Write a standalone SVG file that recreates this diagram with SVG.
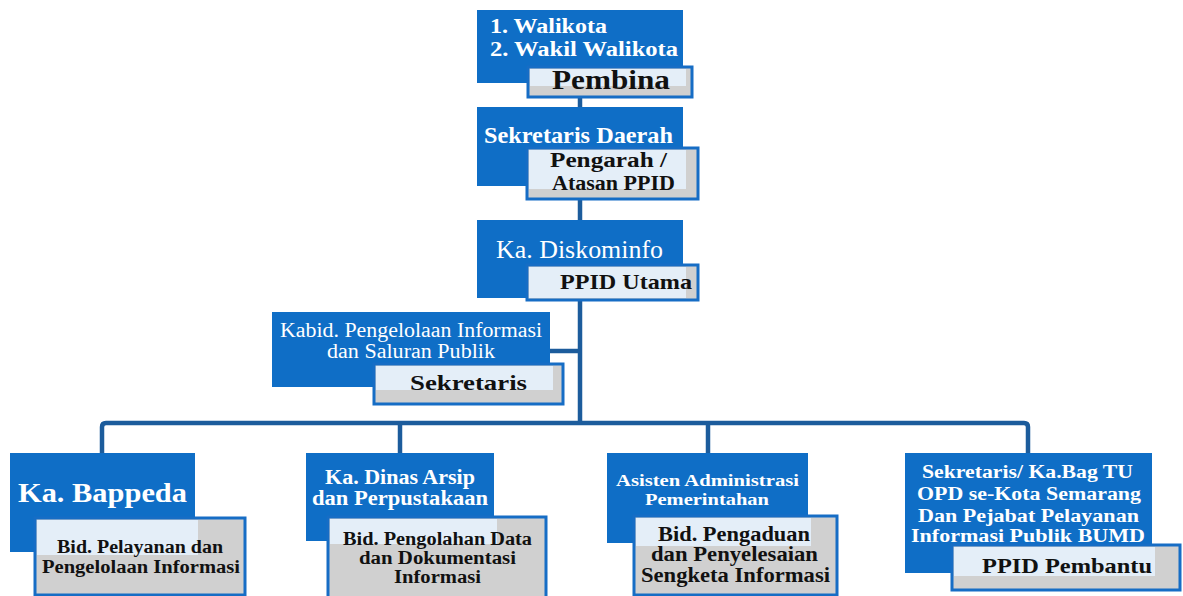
<svg xmlns="http://www.w3.org/2000/svg" width="1183" height="596" viewBox="0 0 1183 596">
<style>
.node{fill:#0f6ec6}
.box{fill:#d0d0d0;stroke:#166dc5;stroke-width:3}
.lit{fill:#e4eef8}
.conn{fill:none;stroke:#1c5c9c;stroke-width:4.5;stroke-linejoin:round}
text{font-family:"Liberation Serif","DejaVu Serif",serif}
.w{fill:#ffffff;font-weight:bold}
.wr{fill:#ffffff;font-weight:normal}
.k{fill:#111111;font-weight:bold}
</style>
<rect x="0" y="0" width="1183" height="596" fill="#ffffff"/>
<g id="connectors">
<path class="conn" d="M580,83 V423"/>
<path class="conn" d="M550,351 H580"/>
<path class="conn" d="M102,453 V427 Q102,423 106,423 H1024 Q1028,423 1028,427 V453"/>
<path class="conn" d="M400,423 V453"/>
<path class="conn" d="M708,423 V453"/>
</g>
<g id="n1">
<rect class="node" x="477" y="10" width="206" height="73"/>
<text class="w" x="490" y="33" font-size="20" textLength="117" lengthAdjust="spacingAndGlyphs">1. Walikota</text>
<text class="w" x="490" y="56" font-size="20" textLength="188" lengthAdjust="spacingAndGlyphs">2. Wakil Walikota</text>
<rect class="box" x="528" y="67" width="164" height="30"/>
<rect class="lit" x="530" y="69" width="156" height="17"/>
<text class="k" x="611" y="89" font-size="27" text-anchor="middle" textLength="118" lengthAdjust="spacingAndGlyphs">Pembina</text>
</g>
<g id="n2">
<rect class="node" x="477" y="107" width="206" height="79"/>
<text class="w" x="578.5" y="143" font-size="23" text-anchor="middle" textLength="189" lengthAdjust="spacingAndGlyphs">Sekretaris Daerah</text>
<rect class="box" x="527" y="148" width="171" height="51"/>
<rect class="lit" x="529" y="150" width="157" height="39"/>
<text class="k" x="608.5" y="167" font-size="20" text-anchor="middle" textLength="117" lengthAdjust="spacingAndGlyphs">Pengarah /</text>
<text class="k" x="613.5" y="190" font-size="20" text-anchor="middle" textLength="123" lengthAdjust="spacingAndGlyphs">Atasan PPID</text>
</g>
<g id="n3">
<rect class="node" x="477" y="220" width="206" height="78"/>
<text class="wr" x="579.5" y="258" font-size="25" text-anchor="middle" textLength="167" lengthAdjust="spacingAndGlyphs">Ka. Diskominfo</text>
<rect class="box" x="527" y="265" width="171" height="35"/>
<rect class="lit" x="529" y="267" width="157" height="31"/>
<text class="k" x="626" y="289" font-size="22" text-anchor="middle" textLength="132" lengthAdjust="spacingAndGlyphs">PPID Utama</text>
</g>
<g id="n4">
<rect class="node" x="272" y="312" width="278" height="75"/>
<text class="wr" x="411" y="337" font-size="20.5" text-anchor="middle" textLength="262" lengthAdjust="spacingAndGlyphs">Kabid. Pengelolaan Informasi</text>
<text class="wr" x="411" y="358" font-size="20.5" text-anchor="middle" textLength="168" lengthAdjust="spacingAndGlyphs">dan Saluran Publik</text>
<rect class="box" x="374" y="364" width="189" height="40"/>
<rect class="lit" x="376" y="366" width="177" height="24"/>
<text class="k" x="468.5" y="390" font-size="21" text-anchor="middle" textLength="117" lengthAdjust="spacingAndGlyphs">Sekretaris</text>
</g>
<g id="nA">
<rect class="node" x="10" y="453" width="185" height="99"/>
<text class="w" x="102.5" y="502" font-size="28" text-anchor="middle" textLength="169" lengthAdjust="spacingAndGlyphs">Ka. Bappeda</text>
<rect class="box" x="35" y="518" width="210" height="77"/>
<rect class="lit" x="37" y="520" width="161" height="35"/>
<text class="k" x="140" y="553" font-size="18" text-anchor="middle" textLength="166" lengthAdjust="spacingAndGlyphs">Bid. Pelayanan dan</text>
<text class="k" x="141" y="573" font-size="18" text-anchor="middle" textLength="198" lengthAdjust="spacingAndGlyphs">Pengelolaan Informasi</text>
</g>
<g id="nB">
<rect class="node" x="306" y="453" width="188" height="88"/>
<text class="w" x="400" y="484" font-size="20" text-anchor="middle" textLength="150" lengthAdjust="spacingAndGlyphs">Ka. Dinas Arsip</text>
<text class="w" x="400" y="505" font-size="20" text-anchor="middle" textLength="176" lengthAdjust="spacingAndGlyphs">dan Perpustakaan</text>
<rect class="box" x="328" y="517" width="218" height="84"/>
<rect class="lit" x="330" y="519" width="167" height="25"/>
<text class="k" x="437.5" y="545" font-size="18" text-anchor="middle" textLength="189" lengthAdjust="spacingAndGlyphs">Bid. Pengolahan Data</text>
<text class="k" x="437.5" y="564" font-size="18" text-anchor="middle" textLength="157" lengthAdjust="spacingAndGlyphs">dan Dokumentasi</text>
<text class="k" x="437.5" y="583" font-size="18" text-anchor="middle" textLength="87" lengthAdjust="spacingAndGlyphs">Informasi</text>
</g>
<g id="nC">
<rect class="node" x="607" y="453" width="201" height="90"/>
<text class="w" x="707.5" y="486" font-size="17" text-anchor="middle" textLength="183" lengthAdjust="spacingAndGlyphs">Asisten Administrasi</text>
<text class="w" x="707" y="505" font-size="17" text-anchor="middle" textLength="124" lengthAdjust="spacingAndGlyphs">Pemerintahan</text>
<rect class="box" x="634" y="516" width="203" height="79"/>
<rect class="lit" x="636" y="518" width="175" height="28"/>
<text class="k" x="734" y="541" font-size="20" text-anchor="middle" textLength="152" lengthAdjust="spacingAndGlyphs">Bid. Pengaduan</text>
<text class="k" x="734.5" y="561" font-size="20" text-anchor="middle" textLength="167" lengthAdjust="spacingAndGlyphs">dan Penyelesaian</text>
<text class="k" x="735.5" y="582" font-size="20" text-anchor="middle" textLength="189" lengthAdjust="spacingAndGlyphs">Sengketa Informasi</text>
</g>
<g id="nD">
<rect class="node" x="905" y="453" width="247" height="120"/>
<text class="w" x="1027.5" y="478" font-size="18.5" text-anchor="middle" textLength="211" lengthAdjust="spacingAndGlyphs">Sekretaris/ Ka.Bag TU</text>
<text class="w" x="1029" y="500" font-size="18.5" text-anchor="middle" textLength="224" lengthAdjust="spacingAndGlyphs">OPD se-Kota Semarang</text>
<text class="w" x="1028.5" y="522" font-size="18.5" text-anchor="middle" textLength="221" lengthAdjust="spacingAndGlyphs">Dan Pejabat Pelayanan</text>
<text class="w" x="1028" y="542" font-size="18.5" text-anchor="middle" textLength="234" lengthAdjust="spacingAndGlyphs">Informasi Publik BUMD</text>
<rect class="box" x="952" y="545" width="228" height="45"/>
<rect class="lit" x="954" y="547" width="201" height="29"/>
<text class="k" x="1067" y="573" font-size="22" text-anchor="middle" textLength="170" lengthAdjust="spacingAndGlyphs">PPID Pembantu</text>
</g>
</svg>
